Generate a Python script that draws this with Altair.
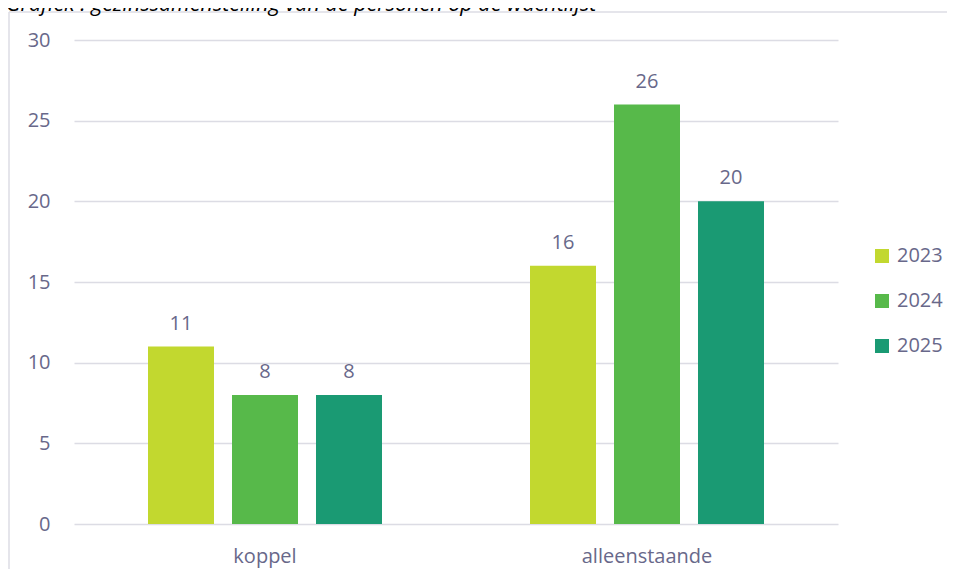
import altair as alt
import pandas as pd

categories = ["koppel", "alleenstaande"]
years = ["2023", "2024", "2025"]
values_koppel = [11, 8, 8]
values_alleenstaande = [16, 26, 20]
colors = ["#c2d82f", "#57b94a", "#1a9a73"]
title_text = "Grafiek : gezinssamenstelling van de personen op de wachtlijst"
y_ticks = [0, 5, 10, 15, 20, 25, 30]

rows = []
for cat, vals in zip(categories, [values_koppel, values_alleenstaande]):
    for yr, v in zip(years, vals):
        rows.append({"categorie": cat, "jaar": yr, "aantal": v})
df = pd.DataFrame(rows)

TXT = "#68688a"
GRID = "#dcdce4"
FONT = "Open Sans"

x_enc = alt.X("categorie:N", sort=categories,
              scale=alt.Scale(paddingInner=0, paddingOuter=0),
              axis=alt.Axis(title=None, labelAngle=0, domain=False, ticks=False,
                            labelPadding=22, labelFontSize=20, labelColor=TXT,
                            labelFont=FONT))
xoff = alt.XOffset("jaar:N", sort=years,
                   scale=alt.Scale(paddingInner=0.2143, paddingOuter=0.881))
y_enc = alt.Y("aantal:Q", scale=alt.Scale(domain=[0, 30], nice=False),
              axis=alt.Axis(title=None, values=y_ticks, domain=False, ticks=False,
                            labelPadding=24, labelFontSize=20, labelColor=TXT,
                            labelFont=FONT, gridColor=GRID, gridWidth=1.5))

bars = alt.Chart(df).mark_bar().encode(
    x=x_enc, xOffset=xoff, y=y_enc,
    color=alt.Color("jaar:N", sort=years,
                    scale=alt.Scale(domain=years, range=colors),
                    legend=alt.Legend(title=None, orient="none", legendX=798, legendY=206,
                                      symbolType="square", symbolSize=196,
                                      symbolStrokeWidth=0, labelFontSize=20,
                                      labelColor=TXT, labelFont=FONT, labelOffset=5,
                                      rowPadding=25)),
)

labels = alt.Chart(df).mark_text(baseline="alphabetic", dy=-17, fontSize=20,
                                 font=FONT, color=TXT).encode(
    x=alt.X("categorie:N", sort=categories), xOffset=alt.XOffset("jaar:N", sort=years),
    y="aantal:Q", text="aantal:Q",
)

one = alt.Data(values=[{}])
frame_left = alt.Chart(one).mark_rule(color=GRID, strokeWidth=1.5).encode(
    x=alt.value(-65), y=alt.value(-28), y2=alt.value(560))
frame_top = alt.Chart(one).mark_rule(color=GRID, strokeWidth=1.5).encode(
    x=alt.value(-65), x2=alt.value(900), y=alt.value(-28))
title = alt.Chart(one).mark_text(align="left", baseline="alphabetic", fontSize=21.5,
                                 font=FONT, fontStyle="italic", color="#000000").encode(
    x=alt.value(-68), y=alt.value(-29), text=alt.value(title_text))

chart = alt.layer(frame_left, frame_top, title, bars, labels).properties(
    width=764, height=484,
    autosize=alt.AutoSizeParams(type="none"),
    padding={"left": 66, "top": 32, "right": 109, "bottom": 45},
).configure_view(stroke=None).configure_scale(bandPaddingInner=0)

chart.save("out.html", embed_options={"renderer": "svg", "actions": False})
